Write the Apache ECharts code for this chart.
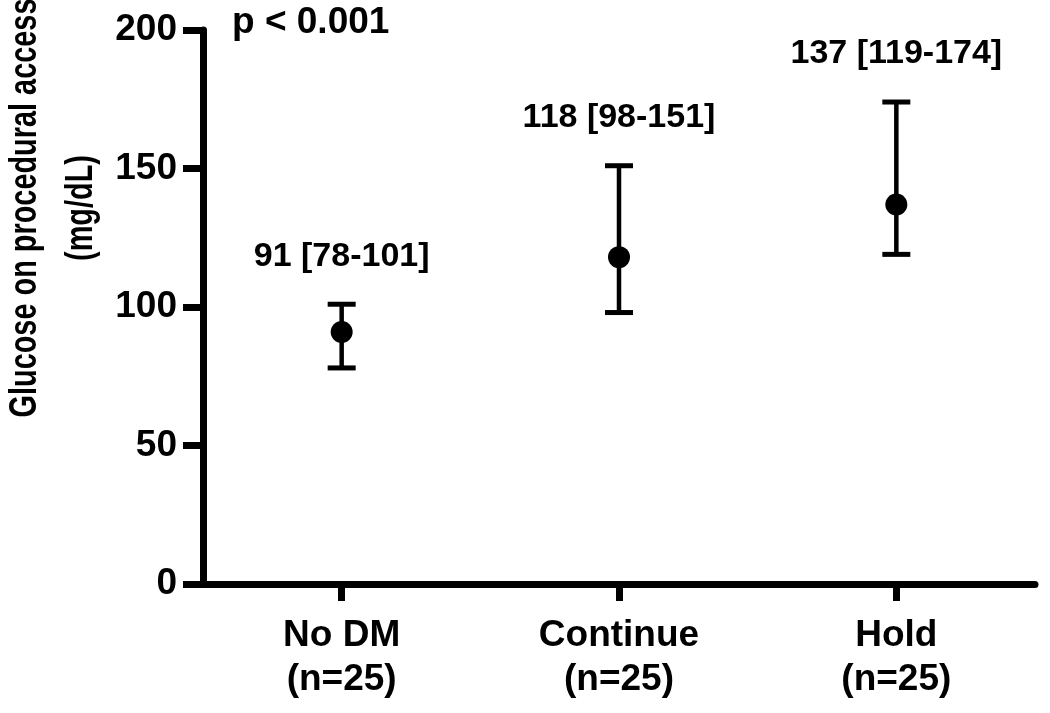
<!DOCTYPE html>
<html>
<head>
<meta charset="utf-8">
<script src="https://cdn.jsdelivr.net/npm/echarts@6/dist/echarts.min.js"></script>
<style>
html,body{margin:0;padding:0;background:#fff;}
#chart{width:1050px;height:713px;}
</style>
</head>
<body>
<div id="chart"></div>
<script>
const categories = ['No DM\n(n=25)', 'Continue\n(n=25)', 'Hold\n(n=25)'];
const medians = [91, 118, 137];
const lows = [78, 98, 119];
const highs = [101, 151, 174];
const pText = 'p < 0.001';
const yTitle = 'Glucose on procedural access\n(mg/dL)';
const yMin = 0, yMax = 200, yInterval = 50;

const FONT = '"Liberation Sans", Arial, Helvetica, sans-serif';
const chart = echarts.init(document.getElementById('chart'), null, { renderer: 'canvas' });

const errData = categories.map((c, i) => [i, lows[i], highs[i], medians[i]]);

chart.setOption({
  animation: false,
  backgroundColor: '#fff',
  grid: { left: 203, right: 15, top: 30, bottom: 129, containLabel: false },
  xAxis: {
    type: 'category',
    data: categories,
    boundaryGap: true,
    axisLine: { show: true, onZero: false, lineStyle: { color: '#000', width: 7 } },
    axisTick: { show: true, alignWithLabel: true, length: 17, lineStyle: { color: '#000', width: 7 } },
    axisLabel: { color: '#000', fontFamily: FONT, fontWeight: 'bold', fontSize: 37, lineHeight: 44, margin: 30 },
    splitLine: { show: false }
  },
  yAxis: {
    type: 'value',
    min: yMin, max: yMax, interval: yInterval,
    axisLine: { show: true, lineStyle: { color: '#000', width: 7 } },
    axisTick: { show: true, length: 20, lineStyle: { color: '#000', width: 7 } },
    axisLabel: { color: '#000', fontFamily: FONT, fontWeight: 'bold', fontSize: 37, margin: 26 },
    splitLine: { show: false }
  },
  graphic: [
    {
      type: 'text', x: 54, y: 208, rotation: Math.PI / 2, scaleX: 0.76, scaleY: 1,
      style: {
        text: yTitle, fill: '#000', fontWeight: 'bold',
        fontFamily: FONT, fontSize: 38,
        align: 'center', verticalAlign: 'middle', lineHeight: 56
      }
    },
    {
      type: 'text', left: 232, top: 4,
      style: { text: pText, fill: '#000', fontWeight: 'bold', fontFamily: FONT, fontSize: 37 }
    }
  ],
  series: [
    {
      type: 'custom',
      data: errData,
      encode: { x: 0, y: [1, 2] },
      renderItem: function (params, api) {
        const i = api.value(0);
        const lo = api.coord([i, api.value(1)]);
        const hi = api.coord([i, api.value(2)]);
        const med = api.value(3);
        const capW = 14;
        const ls = { stroke: '#000', lineWidth: 4.5 };
        const cs = { stroke: '#000', lineWidth: 5 };
        return {
          type: 'group',
          children: [
            { type: 'line', shape: { x1: lo[0], y1: lo[1], x2: hi[0], y2: hi[1] }, style: ls },
            { type: 'line', shape: { x1: lo[0] - capW, y1: lo[1], x2: lo[0] + capW, y2: lo[1] }, style: cs },
            { type: 'line', shape: { x1: hi[0] - capW, y1: hi[1], x2: hi[0] + capW, y2: hi[1] }, style: cs },
            {
              type: 'text', x: hi[0], y: hi[1] - 48,
              style: {
                text: med + ' [' + api.value(1) + '-' + api.value(2) + ']',
                fill: '#000', fontFamily: FONT, fontWeight: 'bold', fontSize: 34,
                align: 'center', verticalAlign: 'middle'
              }
            }
          ]
        };
      },
      z: 2
    },
    {
      type: 'scatter',
      data: medians,
      symbol: 'circle',
      symbolSize: 22,
      itemStyle: { color: '#000', opacity: 1 },
      z: 3
    }
  ]
});
</script>
</body>
</html>
